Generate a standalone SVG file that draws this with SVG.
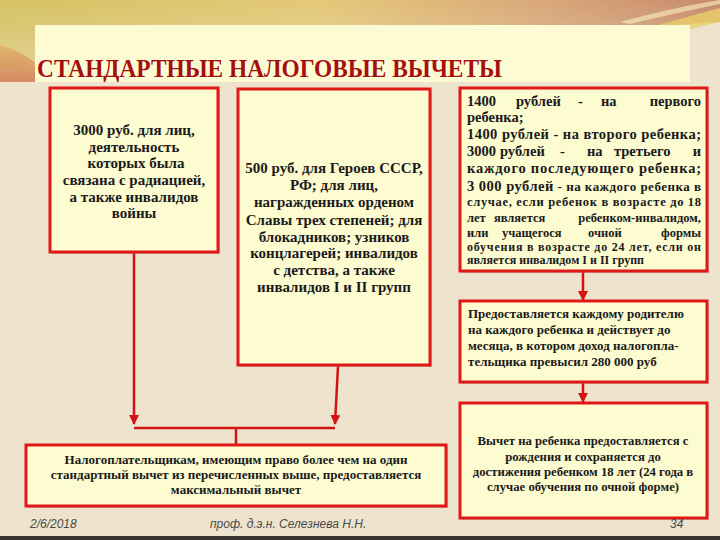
<svg xmlns="http://www.w3.org/2000/svg" width="720" height="540" viewBox="0 0 720 540">
<style>
.box{fill:#FDFBD0;stroke:#E01818;stroke-width:3}
.sh{fill:#9a8f7a;opacity:0.45}
.t{font-family:"Liberation Serif","DejaVu Serif",serif;font-weight:bold;fill:#1a1a1a}
.c{text-anchor:middle}
.e{text-anchor:end}
.con{stroke:#D41414;stroke-width:2.5;fill:none}
.foot{font-family:"Liberation Sans","DejaVu Sans",sans-serif;font-size:12px;fill:#4a4a4a;font-style:italic}
</style>
<defs>
<linearGradient id="topg" x1="0" y1="0" x2="1" y2="0">
<stop offset="0" stop-color="#D5C262"/>
<stop offset="0.45" stop-color="#E4C878"/>
<stop offset="0.75" stop-color="#D9A778"/>
<stop offset="1" stop-color="#C68A6C"/>
</linearGradient>
<linearGradient id="fade" x1="0" y1="0" x2="0" y2="1">
<stop offset="0" stop-color="#EEE3CC" stop-opacity="0"/>
<stop offset="1" stop-color="#EEE3CC" stop-opacity="0.9"/>
</linearGradient>
<linearGradient id="leftg" x1="0" y1="0" x2="0" y2="1">
<stop offset="0" stop-color="#E2B56A"/>
<stop offset="1" stop-color="#D07A50"/>
</linearGradient>
<marker id="ah" viewBox="0 0 10 10" refX="9" refY="5" markerWidth="4" markerHeight="4" orient="auto" markerUnits="strokeWidth">
<path d="M0,0 L10,5 L0,10 Z" fill="#D41414"/>
</marker>
</defs>
<rect x="0" y="0" width="720" height="540" fill="#EEE3CC"/>
<path d="M0,0 H720 V22 Q560 34 380 28 Q180 22 0 70 Z" fill="url(#topg)"/>
<path d="M0,0 H720 V22 Q560 34 380 28 Q180 22 0 70 Z" fill="url(#fade)" opacity="0.5"/>
<path d="M0,45 Q18 50 35 62 L35 82 L0 82 Z" fill="url(#leftg)" opacity="0.85"/>
<path d="M640,30 L720,8 L720,22 L660,36 Z" fill="#E8CF6A" opacity="0.8"/>
<path d="M620,22 Q680 6 720 0 L720 4 Q680 12 630 24 Z" fill="#F4E6B0" opacity="0.7"/>
<rect x="0" y="536" width="720" height="4" fill="#3a3530"/>

<g id="title">
<rect x="35" y="25" width="655" height="57" fill="#FDFBD3"/>
<text x="37" y="77" style="font-family:'Liberation Serif','DejaVu Serif',serif;font-weight:bold;font-size:25px;fill:#A50F0F" textLength="465" lengthAdjust="spacingAndGlyphs">СТАНДАРТНЫЕ НАЛОГОВЫЕ ВЫЧЕТЫ</text>
</g>

<g id="connectors">
<polyline class="con" points="134,252 134,424" marker-end="url(#ah)"/>
<polyline class="con" points="338,366 335,424" marker-end="url(#ah)"/>
<polyline class="con" points="134,428 335,428"/>
<polyline class="con" points="236,428 236,444"/>
<polyline class="con" points="583,272 583,300" marker-end="url(#ah)"/>
<polyline class="con" points="583,383 583,402" marker-end="url(#ah)"/>
</g>

<g id="box1">
<rect class="sh" x="52" y="90" width="168" height="164"/>
<rect class="box" x="50" y="88" width="168" height="164"/>
<text class="t c" font-size="15" x="134" y="135">3000 руб. для лиц,</text>
<text class="t c" font-size="15" x="134" y="152">деятельность</text>
<text class="t c" font-size="15" x="136" y="168">которых была</text>
<text class="t c" font-size="15" x="134" y="185">связана с радиацией,</text>
<text class="t c" font-size="15" x="134" y="202">а также инвалидов</text>
<text class="t c" font-size="15" x="134" y="218">войны</text>
</g>

<g id="box2">
<rect class="sh" x="240" y="91" width="192" height="276"/>
<rect class="box" x="238" y="89" width="192" height="276"/>
<text class="t c" font-size="15" x="334" y="173">500 руб.  для Героев СССР,</text>
<text class="t c" font-size="15" x="334" y="190">РФ; для лиц,</text>
<text class="t c" font-size="15" x="334" y="207">награжденных орденом</text>
<text class="t c" font-size="15" x="334" y="225">Славы трех степеней; для</text>
<text class="t c" font-size="15" x="334" y="242">блокадников; узников</text>
<text class="t c" font-size="15" x="334" y="258">концлагерей; инвалидов</text>
<text class="t c" font-size="15" x="334" y="275">с детства, а также</text>
<text class="t c" font-size="15" x="334" y="292">инвалидов I и II групп</text>
</g>

<g id="box3">
<rect class="sh" x="462" y="90" width="247" height="183"/>
<rect class="box" x="460" y="88" width="247" height="183"/>
<g class="t" font-size="14.5">
<text x="467" y="106">1400</text><text x="516" y="106">рублей</text><text x="578" y="106">-</text><text x="601" y="106">на</text><text class="e" x="701" y="106">первого</text>
<text x="467" y="122">ребенка;</text>
<text x="467" y="139" textLength="234" lengthAdjust="spacing">1400 рублей - на второго ребенка;</text>
<text x="467" y="156">3000</text><text x="500" y="156">рублей</text><text x="560" y="156">-</text><text x="587" y="156">на</text><text x="614" y="156">третьего</text><text class="e" x="701" y="156">и</text>
<text x="467" y="173" textLength="234" lengthAdjust="spacing">каждого последующего ребенка;</text>
</g>
<g class="t">
<text x="467" y="191" font-size="13" textLength="234" lengthAdjust="spacing"><tspan font-size="14.5">3 000 рублей</tspan> - на каждого ребенка в</text>
<text x="467" y="206" font-size="12.5" textLength="234" lengthAdjust="spacing">случае, если ребенок в возрасте до 18</text>
<text x="467" y="222" font-size="12.5">лет</text><text x="494" y="222" font-size="12.5">является</text><text class="e" x="701" y="222" font-size="12.5">ребенком-инвалидом,</text>
<text x="467" y="237" font-size="12.5">или</text><text x="502" y="237" font-size="12.5">учащегося</text><text x="588" y="237" font-size="12.5">очной</text><text class="e" x="701" y="237" font-size="12.5">формы</text>
<text x="467" y="251" font-size="12" textLength="234" lengthAdjust="spacing">обучения в возрасте до 24 лет, если он</text>
<text x="467" y="264" font-size="12">является инвалидом I и II групп</text>
</g>
</g>

<g id="box4">
<rect class="sh" x="462" y="303" width="247" height="81"/>
<rect class="box" x="460" y="301" width="247" height="81"/>
<text class="t" font-size="13" x="468" y="318">Предоставляется каждому родителю</text>
<text class="t" font-size="13" x="468" y="334">на каждого ребенка и действует до</text>
<text class="t" font-size="13" x="468" y="350">месяца, в котором доход налогопла-</text>
<text class="t" font-size="13" x="468" y="366">тельщика  превысил 280 000 руб</text>
</g>

<g id="box5">
<rect class="sh" x="462" y="405" width="247" height="115"/>
<rect class="box" x="460" y="403" width="247" height="115"/>
<text class="t c" font-size="12.7" x="583" y="445">Вычет на ребенка предоставляется с</text>
<text class="t c" font-size="12.7" x="583" y="461">рождения и сохраняется до</text>
<text class="t c" font-size="12.7" x="583" y="476">достижения ребенком 18 лет (24 года в</text>
<text class="t c" font-size="12.7" x="583" y="491">случае обучения по очной форме)</text>
</g>

<g id="box6">
<rect class="sh" x="28" y="447" width="420" height="61"/>
<rect class="box" x="26" y="445" width="420" height="61"/>
<text class="t c" font-size="13" x="236" y="464">Налогоплательщикам, имеющим право более чем на один</text>
<text class="t c" font-size="13" x="236" y="479">стандартный вычет из перечисленных  выше, предоставляется</text>
<text class="t c" font-size="13" x="236" y="494">максимальный  вычет</text>
</g>

<g id="footer">
<text class="foot" x="30" y="528">2/6/2018</text>
<text class="foot" x="210" y="528">проф. д.э.н. Селезнева Н.Н.</text>
<text class="foot" x="670" y="528">34</text>
</g>
</svg>
